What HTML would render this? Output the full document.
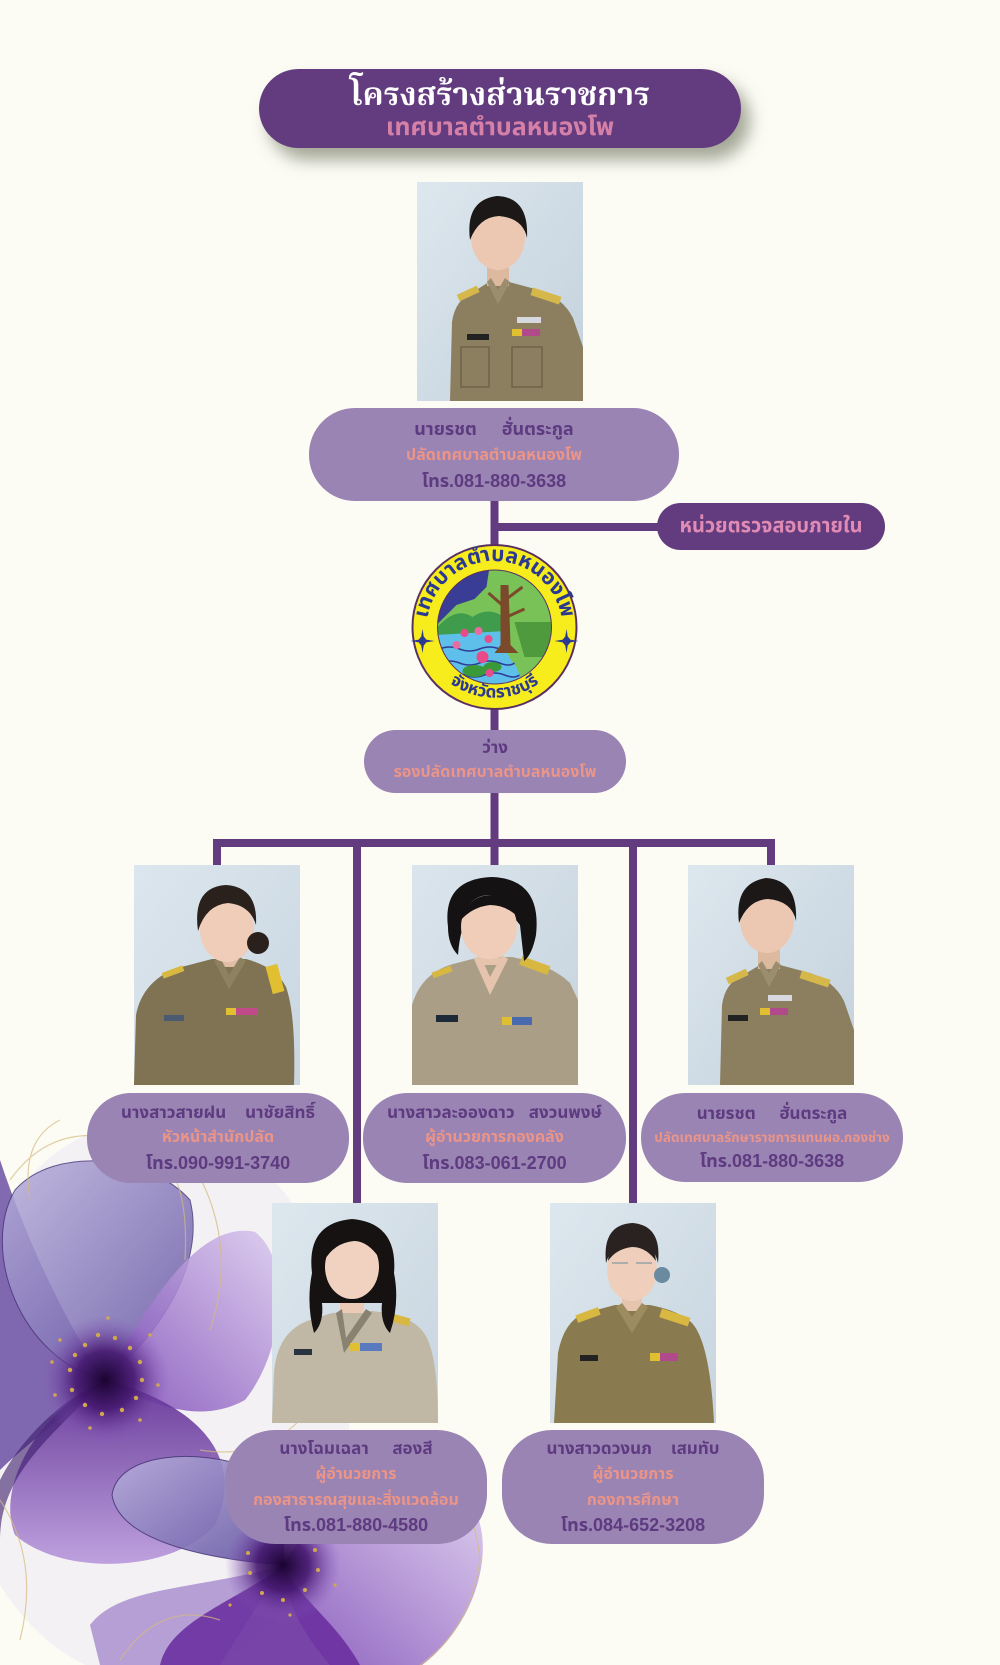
<!DOCTYPE html>
<html><head><meta charset="utf-8">
<style>
html,body{margin:0;padding:0;}
body{width:1000px;height:1665px;position:relative;overflow:hidden;background:#fcfcf5;font-family:"Liberation Sans","Noto Sans Thai","Noto Sans Thai UI","Kanit","Prompt","Sarabun","Loma","Garuda","Waree","Tlwg Typo",sans-serif;}
.abs{position:absolute;}
.box{position:absolute;background:#9a84b3;}
.t{position:absolute;text-align:center;height:0;line-height:0;white-space:nowrap;font-weight:bold;}
.nm{color:#5e3b80;font-size:17px;}
.tl{color:#eb9488;font-size:16px;}
.ph{color:#5e3b80;font-size:18px;}
</style></head><body>

<!-- flowers background -->
<svg class="abs" style="left:0;top:0" width="1000" height="1665" viewBox="0 0 1000 1665">
<defs>
<radialGradient id="fc1" cx="0.5" cy="0.5" r="0.5"><stop offset="0" stop-color="#1a0330"/><stop offset="0.45" stop-color="#451870" stop-opacity="0.9"/><stop offset="1" stop-color="#8c5cc0" stop-opacity="0"/></radialGradient>
<linearGradient id="pLow" x1="0" y1="0" x2="0" y2="1"><stop offset="0" stop-color="#5a2890"/><stop offset="1" stop-color="#b898dc"/></linearGradient>
<linearGradient id="pRt" x1="0" y1="1" x2="1" y2="0"><stop offset="0" stop-color="#7a45b5"/><stop offset="1" stop-color="#d9c8ee"/></linearGradient>
<linearGradient id="pUL" x1="1" y1="1" x2="0" y2="0"><stop offset="0" stop-color="#6050a0"/><stop offset="1" stop-color="#b8b0dc"/></linearGradient>
</defs>
<!-- light halo -->
<ellipse cx="150" cy="1400" rx="200" ry="280" fill="#eeeaf4" opacity="0.6"/>
<!-- big flower -->
<path d="M0 1160 C30 1250 70 1330 105 1380 C60 1420 20 1450 0 1470 Z" fill="#5a3a9a" opacity="0.75"/>
<path d="M105 1380 C20 1360 -20 1250 15 1190 C55 1145 150 1155 190 1200 C205 1260 165 1330 105 1380Z" fill="url(#pUL)" opacity="0.85" stroke="#4a3a7a" stroke-width="1"/>
<path d="M105 1380 C150 1300 200 1220 255 1232 C292 1260 285 1350 245 1400 C200 1425 150 1405 105 1380Z" fill="url(#pRt)" opacity="0.85"/>
<path d="M105 1380 C185 1400 250 1450 215 1525 C170 1575 60 1575 15 1535 C-5 1485 40 1410 105 1380Z" fill="url(#pLow)" opacity="0.9"/>
<path d="M105 1380 C60 1430 0 1470 0 1540 L0 1480 C20 1440 60 1400 105 1380Z" fill="#3a1a6a" opacity="0.6"/>
<circle cx="105" cy="1380" r="65" fill="url(#fc1)"/>
<!-- second flower -->
<path d="M283 1565 C220 1560 120 1545 112 1495 C118 1452 200 1448 250 1468 C276 1490 286 1530 283 1565Z" fill="url(#pUL)" opacity="0.9" stroke="#4a3a7a" stroke-width="1"/>
<path d="M283 1565 C320 1500 400 1462 462 1492 C502 1530 482 1620 422 1665 L330 1665 C300 1630 285 1600 283 1565Z" fill="url(#pRt)" opacity="0.85"/>
<path d="M283 1565 C200 1590 120 1585 90 1625 L100 1665 L220 1665 Z" fill="#9a7cc8" opacity="0.7"/>
<path d="M283 1565 C240 1600 170 1620 160 1665 L360 1665 C335 1620 300 1600 283 1565Z" fill="#6a30a0" opacity="0.9"/>
<circle cx="283" cy="1565" r="58" fill="url(#fc1)"/>
<g fill="#d1a74e">
<circle cx="85" cy="1345" r="2.2"/><circle cx="98" cy="1335" r="2.2"/><circle cx="115" cy="1338" r="2.2"/><circle cx="130" cy="1348" r="2.2"/><circle cx="140" cy="1362" r="2.2"/><circle cx="142" cy="1380" r="2.2"/><circle cx="136" cy="1398" r="2.2"/><circle cx="122" cy="1410" r="2.2"/><circle cx="102" cy="1414" r="2.2"/><circle cx="85" cy="1405" r="2.2"/><circle cx="72" cy="1390" r="2.2"/><circle cx="70" cy="1370" r="2.2"/><circle cx="75" cy="1355" r="2.2"/>
<circle cx="60" cy="1340" r="1.8"/><circle cx="108" cy="1318" r="1.8"/><circle cx="150" cy="1335" r="1.8"/><circle cx="158" cy="1385" r="1.8"/><circle cx="140" cy="1420" r="1.8"/><circle cx="90" cy="1428" r="1.8"/><circle cx="55" cy="1395" r="1.8"/><circle cx="52" cy="1362" r="1.8"/>
<circle cx="260" cy="1535" r="2"/><circle cx="280" cy="1527" r="2"/><circle cx="300" cy="1533" r="2"/><circle cx="315" cy="1550" r="2"/><circle cx="318" cy="1570" r="2"/><circle cx="305" cy="1590" r="2"/><circle cx="283" cy="1600" r="2"/><circle cx="262" cy="1593" r="2"/><circle cx="250" cy="1573" r="2"/><circle cx="248" cy="1553" r="2"/>
<circle cx="240" cy="1520" r="1.6"/><circle cx="330" cy="1535" r="1.6"/><circle cx="335" cy="1585" r="1.6"/><circle cx="230" cy="1605" r="1.6"/><circle cx="290" cy="1615" r="1.6"/>
</g>
<g fill="none" stroke="#d6ba80" stroke-width="1.2" opacity="0.7">
<path d="M10 1180 Q60 1110 150 1150 Q190 1170 185 1260"/>
<path d="M190 1160 Q240 1240 210 1330"/>
<path d="M0 1500 Q40 1560 20 1640"/>
<path d="M380 1440 Q470 1460 480 1560 Q470 1630 420 1665"/>
<path d="M300 1420 Q260 1460 200 1450"/>
<path d="M120 1660 Q160 1600 220 1620"/>
<path d="M60 1120 Q20 1140 30 1200"/>
</g>
</svg>

<!-- connector lines -->
<svg class="abs" style="left:0;top:0" width="1000" height="1665" viewBox="0 0 1000 1665">
<g fill="#633c80">
<rect x="490.5" y="498" width="8" height="50"/>
<rect x="494" y="523" width="166" height="8"/>
<rect x="490.5" y="704" width="8" height="28"/>
<rect x="490.5" y="791" width="8" height="52"/>
<rect x="213" y="839" width="562" height="8"/>
<rect x="213" y="839" width="8" height="28"/>
<rect x="767" y="839" width="8" height="28"/>
<rect x="490.5" y="839" width="8" height="28"/>
<rect x="353" y="839" width="8" height="366"/>
<rect x="629" y="839" width="8" height="366"/>
</g>
</svg>

<!-- title -->
<div class="abs" style="left:259px;top:69px;width:482px;height:79px;border-radius:40px;background:#633c7f;box-shadow:9px 12px 16px rgba(80,85,60,0.5);"></div>
<div class="t" style="left:259px;width:482px;top:94px;font-size:32px;color:#ffffff;font-family:'Liberation Serif','Noto Serif Thai','Noto Sans Thai','Norasi','Kinnari',serif;">โครงสร้างส่วนราชการ</div>
<div class="t" style="left:259px;width:482px;top:127px;font-size:25px;color:#d680a8;">เทศบาลตำบลหนองโพ</div>

<!-- top photo -->
<svg class="abs" style="left:417px;top:182px" width="166" height="219" viewBox="0 0 166 219">
<defs><linearGradient id="bgA" x1="0" y1="0" x2="1" y2="1"><stop offset="0" stop-color="#dde7ee"/><stop offset="1" stop-color="#c3d1dc"/></linearGradient></defs>
<rect width="166" height="219" fill="url(#bgA)"/>
<path d="M33 219 L35 140 Q38 118 56 110 L72 100 L92 100 L122 108 Q146 116 156 136 L166 165 L166 219 Z" fill="#8b7f60"/>
<rect x="70" y="78" width="22" height="26" fill="#ddb9a0"/>
<path d="M70 100 L81 122 L93 100 L88 96 L81 108 L74 96 Z" fill="#9a8e6e"/>
<rect x="40" y="108" width="22" height="7" transform="rotate(-25 51 111)" fill="#d6b84a"/>
<rect x="114" y="110" width="30" height="8" transform="rotate(18 129 114)" fill="#d6b84a"/>
<rect x="95" y="147" width="28" height="7" fill="#b04a8a"/><rect x="95" y="147" width="10" height="7" fill="#e0c030"/>
<rect x="100" y="135" width="24" height="6" fill="#d8d8e0"/>
<rect x="50" y="152" width="22" height="6" fill="#222"/>
<path d="M44 165 L72 165 L72 205 L44 205 Z M95 165 L125 165 L125 205 L95 205Z" fill="none" stroke="#6e6448" stroke-width="1.5"/>
<ellipse cx="81" cy="55" rx="27" ry="33" fill="#ecc8b2"/>
<path d="M53 58 Q48 18 80 14 Q112 15 110 56 Q106 36 82 34 Q62 35 53 58Z" fill="#1c1818"/>
</svg>

<!-- node 1 -->
<div class="box" style="left:309px;top:408px;width:370px;height:93px;border-radius:46px;"></div>
<div class="t nm" style="left:309px;width:370px;top:429px;font-size:18px;">นายรชต&nbsp;&nbsp;&nbsp;&nbsp;&nbsp;ฮั่นตระกูล</div>
<div class="t tl" style="left:309px;width:370px;top:456px;">ปลัดเทศบาลตำบลหนองโพ</div>
<div class="t ph" style="left:309px;width:370px;top:481px;">โทร.081-880-3638</div>

<!-- internal audit -->
<div class="abs" style="left:657px;top:503px;width:228px;height:47px;border-radius:24px;background:#633c7f;"></div>
<div class="t" style="left:657px;width:228px;top:526px;font-size:20px;color:#e08ab4;">หน่วยตรวจสอบภายใน</div>

<!-- logo -->
<svg class="abs" style="left:404px;top:537px" width="181" height="181" viewBox="-90.5 -90 181 181">
<defs><clipPath id="lc"><circle r="57"/></clipPath>
<path id="arcT" d="M-62 30 A68 68 0 1 1 62 30"/>
<path id="arcB" d="M-56 46 A76 76 0 0 0 56 46"/>
</defs>
<circle r="82" fill="#f7ec1c" stroke="#5a3060" stroke-width="2"/>
<g clip-path="url(#lc)">
<circle r="57" fill="#78c257"/>
<path d="M-60 0 L-60 -60 L-5 -60 L-8 -40 L-20 -28 L-38 -22 Z" fill="#3a3d95"/>
<path d="M-60 4 Q-40 -22 -22 -10 Q-5 -22 12 -8 L14 10 L-60 12Z" fill="#3f9c4c"/>
<path d="M-60 8 L12 4 Q6 22 22 40 L30 60 L-60 60 Z" fill="#5ec0ea"/>
<g fill="none" stroke="#2f3c96" stroke-width="1.5"><path d="M-55 22 Q-45 18 -35 22 T-15 22 T5 22"/><path d="M-55 36 Q-45 32 -35 36 T-15 36 T5 36 T20 36"/><path d="M-50 48 Q-40 44 -30 48 T-10 48 T10 48 T25 48"/></g>
<path d="M6 -42 L14 -42 L16 18 L24 26 L0 26 L6 18 Z" fill="#7a4a2a"/>
<path d="M10 -20 L-6 -34 M12 -28 L28 -40 M12 -10 L30 -18" stroke="#7a4a2a" stroke-width="3"/>
<path d="M20 -5 L57 -5 L57 30 L30 30 Z" fill="#4f9a3c"/>
<ellipse cx="-20" cy="44" rx="12" ry="6" fill="#3a9a3a"/><ellipse cx="-2" cy="40" rx="9" ry="5" fill="#3a9a3a"/>
<circle cx="-30" cy="6" r="4" fill="#e84a8a"/><circle cx="-16" cy="4" r="4" fill="#e86aa0"/><circle cx="-6" cy="12" r="4" fill="#e84a8a"/><circle cx="-38" cy="18" r="4" fill="#e86aa0"/><circle cx="-12" cy="30" r="6" fill="#e84a8a"/><circle cx="-5" cy="46" r="4" fill="#e84a8a"/>
</g>
<circle r="57" fill="none" stroke="#5a3060" stroke-width="1"/>
<text font-size="21" font-weight="bold" fill="#2b3990"><textPath href="#arcT" startOffset="50%" text-anchor="middle">เทศบาลตำบลหนองโพ</textPath></text>
<text font-size="17" font-weight="bold" fill="#2b3990"><textPath href="#arcB" startOffset="50%" text-anchor="middle">จังหวัดราชบุรี</textPath></text>
<path d="M-72 8 L-67 14 L-72 20 L-77 14 Z M-72 2 L-70 14 L-72 26 L-74 14Z M-84 14 L-72 12 L-60 14 L-72 16Z" fill="#2b3990"/>
<path d="M72 8 L77 14 L72 20 L67 14 Z M72 2 L74 14 L72 26 L70 14Z M60 14 L72 12 L84 14 L72 16Z" fill="#2b3990"/>
</svg>

<!-- deputy -->
<div class="box" style="left:364px;top:730px;width:262px;height:63px;border-radius:32px;"></div>
<div class="t nm" style="left:364px;width:262px;top:748px;">ว่าง</div>
<div class="t tl" style="left:364px;width:262px;top:773px;">รองปลัดเทศบาลตำบลหนองโพ</div>

<!-- row1 photo left woman -->
<svg class="abs" style="left:134px;top:865px" width="166" height="220" viewBox="0 0 166 220">
<defs><linearGradient id="bgB" x1="0" y1="0" x2="1" y2="1"><stop offset="0" stop-color="#dce6ee"/><stop offset="1" stop-color="#c9d6e0"/></linearGradient></defs>
<rect width="166" height="220" fill="url(#bgB)"/>
<path d="M0 220 L2 150 Q8 118 40 104 L78 94 L112 94 Q142 102 152 122 Q162 150 160 220 Z" fill="#7f7353"/>
<rect x="84" y="80" width="22" height="22" fill="#e2bda5"/>
<path d="M80 96 L95 124 L112 96 L106 92 L95 110 L86 92Z" fill="#8d8160"/>
<rect x="135" y="100" width="12" height="28" transform="rotate(-15 141 114)" fill="#e0c030"/>
<rect x="28" y="104" width="22" height="6" transform="rotate(-20 39 107)" fill="#d8b840"/>
<rect x="92" y="143" width="32" height="7" fill="#c04a8a"/><rect x="92" y="143" width="10" height="7" fill="#e0c030"/>
<rect x="30" y="150" width="20" height="6" fill="#4a5a70"/>
<ellipse cx="93" cy="65" rx="27" ry="32" fill="#efcdb9"/>
<path d="M64 66 Q58 22 92 20 Q124 22 122 60 Q116 40 94 38 Q72 40 64 66Z" fill="#2a201c"/>
<circle cx="124" cy="78" r="11" fill="#2a201c"/>
</svg>

<!-- row1 middle woman -->
<svg class="abs" style="left:412px;top:865px" width="166" height="220" viewBox="0 0 166 220">
<defs><linearGradient id="bgC" x1="0" y1="0" x2="1" y2="1"><stop offset="0" stop-color="#dbe5ed"/><stop offset="1" stop-color="#c6d3dd"/></linearGradient></defs>
<rect width="166" height="220" fill="url(#bgC)"/>
<path d="M0 220 L0 140 Q10 106 45 98 L68 92 L100 92 Q140 100 158 118 L166 135 L166 220 Z" fill="#aa9f86"/>
<rect x="66" y="80" width="22" height="20" fill="#e6c3ad"/>
<path d="M62 94 L78 130 L96 94 L90 90 L78 112 L68 90Z" fill="#e6c3ad"/>
<rect x="108" y="96" width="30" height="9" transform="rotate(20 123 100)" fill="#d8b840"/>
<rect x="20" y="104" width="20" height="6" transform="rotate(-20 30 107)" fill="#d8b840"/>
<rect x="90" y="152" width="30" height="8" fill="#4a6ab0"/><rect x="90" y="152" width="10" height="8" fill="#e0c030"/>
<rect x="24" y="150" width="22" height="7" fill="#1e2a38"/>
<path d="M36 62 Q30 14 80 12 Q130 14 124 70 Q120 90 112 96 L108 60 Q90 36 60 44 Q48 60 46 90 Q36 80 36 62Z" fill="#141212"/>
<ellipse cx="77" cy="62" rx="28" ry="32" fill="#efcdb9"/>
<path d="M48 56 Q56 30 80 30 Q108 30 110 56 Q96 40 78 40 Q60 42 48 56Z" fill="#141212"/>
</svg>

<!-- row1 right man -->
<svg class="abs" style="left:688px;top:865px" width="166" height="220" viewBox="0 0 166 220">
<defs><linearGradient id="bgD" x1="0" y1="0" x2="1" y2="1"><stop offset="0" stop-color="#dde7ee"/><stop offset="1" stop-color="#c3d1dc"/></linearGradient></defs>
<rect width="166" height="220" fill="url(#bgD)"/>
<path d="M32 220 L34 140 Q37 118 55 110 L72 100 L92 100 L122 108 Q146 116 156 136 L166 165 L166 220 Z" fill="#8b7f60"/>
<rect x="70" y="78" width="22" height="26" fill="#ddb9a0"/>
<path d="M70 100 L81 122 L93 100 L88 96 L81 108 L74 96 Z" fill="#9a8e6e"/>
<rect x="38" y="108" width="22" height="7" transform="rotate(-25 49 111)" fill="#d6b84a"/>
<rect x="112" y="110" width="30" height="8" transform="rotate(18 127 114)" fill="#d6b84a"/>
<rect x="72" y="143" width="28" height="7" fill="#b04a8a"/><rect x="72" y="143" width="10" height="7" fill="#e0c030"/>
<rect x="80" y="130" width="24" height="6" fill="#d8d8e0"/>
<rect x="40" y="150" width="20" height="6" fill="#222"/>
<ellipse cx="79" cy="55" rx="27" ry="33" fill="#ecc8b2"/>
<path d="M51 58 Q46 18 78 13 Q110 15 108 56 Q104 36 80 34 Q60 35 51 58Z" fill="#1c1818"/>
</svg>

<!-- row1 boxes -->
<div class="box" style="left:87px;top:1093px;width:262px;height:90px;border-radius:44px;"></div>
<div class="t nm" style="left:87px;width:262px;top:1113px;">นางสาวสายฝน&nbsp;&nbsp;&nbsp;&nbsp;นาชัยสิทธิ์</div>
<div class="t tl" style="left:87px;width:262px;top:1138px;">หัวหน้าสำนักปลัด</div>
<div class="t ph" style="left:87px;width:262px;top:1163px;">โทร.090-991-3740</div>

<div class="box" style="left:363px;top:1093px;width:263px;height:90px;border-radius:44px;"></div>
<div class="t nm" style="left:363px;width:263px;top:1113px;">นางสาวละอองดาว&nbsp;&nbsp;&nbsp;สงวนพงษ์</div>
<div class="t tl" style="left:363px;width:263px;top:1138px;">ผู้อำนวยการกองคลัง</div>
<div class="t ph" style="left:363px;width:263px;top:1163px;">โทร.083-061-2700</div>

<div class="box" style="left:641px;top:1093px;width:262px;height:89px;border-radius:44px;"></div>
<div class="t nm" style="left:641px;width:262px;top:1114px;">นายรชต&nbsp;&nbsp;&nbsp;&nbsp;&nbsp;ฮั่นตระกูล</div>
<div class="t tl" style="left:641px;width:262px;top:1138px;font-size:13.5px;">ปลัดเทศบาลรักษาราชการแทนผอ.กองช่าง</div>
<div class="t ph" style="left:641px;width:262px;top:1161px;">โทร.081-880-3638</div>

<!-- row2 left woman -->
<svg class="abs" style="left:272px;top:1203px" width="166" height="220" viewBox="0 0 166 220">
<defs><linearGradient id="bgE" x1="0" y1="0" x2="1" y2="1"><stop offset="0" stop-color="#dde7ee"/><stop offset="1" stop-color="#c8d5df"/></linearGradient></defs>
<rect width="166" height="220" fill="url(#bgE)"/>
<path d="M0 220 L2 170 Q5 130 35 118 L60 110 L100 108 Q140 112 152 130 Q166 150 166 220 Z" fill="#c0b8a4"/>
<rect x="68" y="86" width="24" height="24" fill="#eccab6"/>
<path d="M64 110 L72 150 L100 110 L94 106 L74 135 L70 106Z" fill="#8a8270"/>
<rect x="112" y="112" width="26" height="8" transform="rotate(15 125 116)" fill="#d8b840"/>
<rect x="78" y="140" width="32" height="8" fill="#5a7ac0"/><rect x="78" y="140" width="10" height="8" fill="#e0c030"/>
<rect x="22" y="146" width="18" height="6" fill="#2a3440"/>
<path d="M40 70 Q34 20 80 16 Q126 20 122 70 Q128 100 118 130 Q108 120 110 100 L50 100 Q52 120 42 130 Q34 100 40 70Z" fill="#161212"/>
<ellipse cx="80" cy="64" rx="27" ry="32" fill="#f1d2c0"/>
<path d="M52 58 Q56 30 80 30 Q108 30 108 56 Q96 38 82 38 Q62 40 52 58Z" fill="#161212"/>
</svg>

<!-- row2 right woman -->
<svg class="abs" style="left:550px;top:1203px" width="166" height="220" viewBox="0 0 166 220">
<defs><linearGradient id="bgF" x1="0" y1="0" x2="1" y2="1"><stop offset="0" stop-color="#dde7ee"/><stop offset="1" stop-color="#c8d5df"/></linearGradient></defs>
<rect width="166" height="220" fill="url(#bgF)"/>
<path d="M4 220 L8 150 Q14 118 35 110 L65 102 L100 102 Q130 108 142 120 Q160 140 164 220 Z" fill="#8a7a50"/>
<rect x="72" y="88" width="20" height="20" fill="#e6c4ae"/>
<path d="M66 104 L82 130 L98 104 L92 100 L82 114 L72 100Z" fill="#9c8c60"/>
<rect x="26" y="108" width="24" height="8" transform="rotate(-20 38 112)" fill="#d8b840"/>
<rect x="110" y="110" width="30" height="9" transform="rotate(18 125 114)" fill="#d8b840"/>
<rect x="100" y="150" width="28" height="8" fill="#b04a8a"/><rect x="100" y="150" width="10" height="8" fill="#e0c030"/>
<rect x="30" y="152" width="18" height="6" fill="#222"/>
<path d="M56 60 Q52 22 82 20 Q112 22 108 60 Q104 40 82 38 Q62 40 56 60Z" fill="#2a2220"/>
<ellipse cx="82" cy="67" rx="25" ry="31" fill="#efcfbb"/>
<path d="M58 58 Q60 34 82 32 Q104 34 106 58 Q96 44 82 44 Q66 46 58 58Z" fill="#2a2220"/>
<path d="M62 60 L78 60 M86 60 L102 60" stroke="#9aa0a8" stroke-width="1.5"/>
<circle cx="112" cy="72" r="8" fill="#6a8aa0"/>
</svg>

<!-- row2 boxes -->
<div class="box" style="left:225px;top:1430px;width:262px;height:114px;border-radius:50px;"></div>
<div class="t nm" style="left:225px;width:262px;top:1449px;">นางโฉมเฉลา&nbsp;&nbsp;&nbsp;&nbsp;&nbsp;สองสี</div>
<div class="t tl" style="left:225px;width:262px;top:1475px;">ผู้อำนวยการ</div>
<div class="t tl" style="left:225px;width:262px;top:1501px;">กองสาธารณสุขและสิ่งแวดล้อม</div>
<div class="t ph" style="left:225px;width:262px;top:1525px;">โทร.081-880-4580</div>

<div class="box" style="left:502px;top:1430px;width:262px;height:114px;border-radius:50px;"></div>
<div class="t nm" style="left:502px;width:262px;top:1449px;">นางสาวดวงนภ&nbsp;&nbsp;&nbsp;&nbsp;เสมทับ</div>
<div class="t tl" style="left:502px;width:262px;top:1475px;">ผู้อำนวยการ</div>
<div class="t tl" style="left:502px;width:262px;top:1501px;">กองการศึกษา</div>
<div class="t ph" style="left:502px;width:262px;top:1525px;">โทร.084-652-3208</div>

</body></html>
